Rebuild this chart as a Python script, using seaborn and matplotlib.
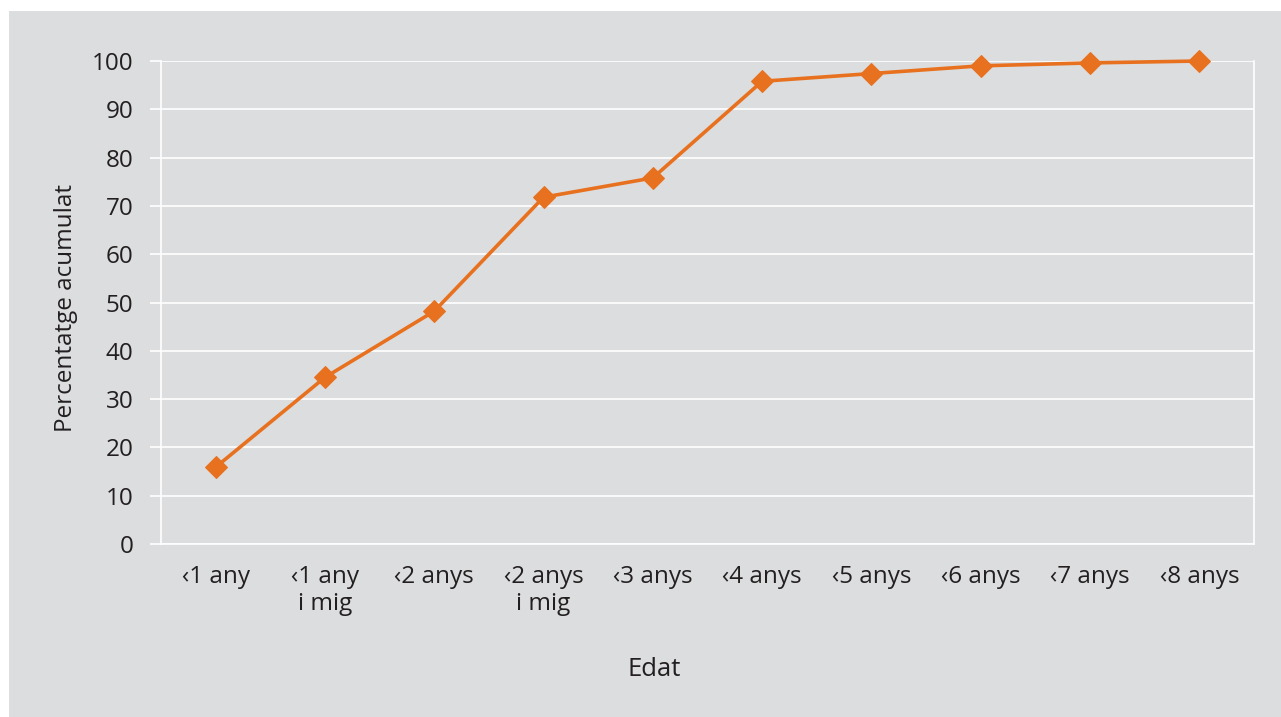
import matplotlib
matplotlib.use("Agg")
import matplotlib.pyplot as plt
import seaborn as sns
import pandas as pd
import numpy as np
from matplotlib.patches import Rectangle

# Cumulative share by age
categories = ["‹1 any", "‹1 any\ni mig", "‹2 anys", "‹2 anys\ni mig", "‹3 anys",
              "‹4 anys", "‹5 anys", "‹6 anys", "‹7 anys", "‹8 anys"]
values = [15.9, 34.5, 48.2, 71.8, 75.8, 95.8, 97.4, 99.0, 99.6, 100.0]
y_ticks = [0, 10, 20, 30, 40, 50, 60, 70, 80, 90, 100]

BG = "#dcdddf"
ORANGE = "#e8711f"
TEXT = "#231f20"

sns.set_theme(style="white")
plt.rcParams["font.family"] = ["Open Sans", "DejaVu Sans"]

fig = plt.figure(figsize=(12.81, 7.17), dpi=100, facecolor="white")
fig.patches.append(Rectangle((9 / 1281, 0), 1 - 9 / 1281, 1 - 11 / 717,
                             transform=fig.transFigure, facecolor=BG,
                             edgecolor="none", zorder=-10))
ax = fig.add_axes([161 / 1281, 1 - 544 / 717, (1254 - 161) / 1281, (544 - 61) / 717])
ax.set_facecolor(BG)

df = pd.DataFrame({"pos": np.arange(len(categories)), "pct": values})
sns.lineplot(data=df, x="pos", y="pct", ax=ax, color=ORANGE, linewidth=2.6,
             marker="D", markersize=11, markeredgecolor=ORANGE, clip_on=False, zorder=5)

ax.set_xlim(-0.5, len(categories) - 0.5)
ax.set_ylim(0, 100)
ax.set_yticks(y_ticks)
ax.set_xticks(np.arange(len(categories)))
ax.set_xticklabels(categories, fontsize=17.5, color=TEXT, linespacing=1.2)
ax.set_xticks(np.arange(len(categories) + 1) - 0.5, minor=True)
ax.tick_params(axis="x", which="major", length=0, pad=15)
ax.tick_params(axis="x", which="minor", length=7, width=1.2, color="white", direction="out")
ax.tick_params(axis="y", length=8, width=1.2, color="white", labelsize=17.5,
               labelcolor=TEXT, pad=12, left=True)
ax.yaxis.grid(True, color="white", linewidth=1.2)
ax.set_axisbelow(True)

ax.spines["top"].set_visible(False)
for side in ["left", "right", "bottom"]:
    ax.spines[side].set_visible(True)
    ax.spines[side].set_color("white")
    ax.spines[side].set_linewidth(1.2)

ax.set_xlabel("Edat", fontsize=18.5, color=TEXT)
ax.xaxis.set_label_coords((654 - 161) / 1093, -(670 - 544) / 483, transform=ax.transAxes)
ax.xaxis.label.set_verticalalignment("center")
ax.set_ylabel("Percentatge acumulat", fontsize=17.5, color=TEXT)
ax.yaxis.set_label_coords(-(161 - 66) / 1093, (544 - 308) / 483, transform=ax.transAxes)
ax.yaxis.label.set_verticalalignment("center")

fig.savefig("out.png", dpi=100, facecolor="white")
